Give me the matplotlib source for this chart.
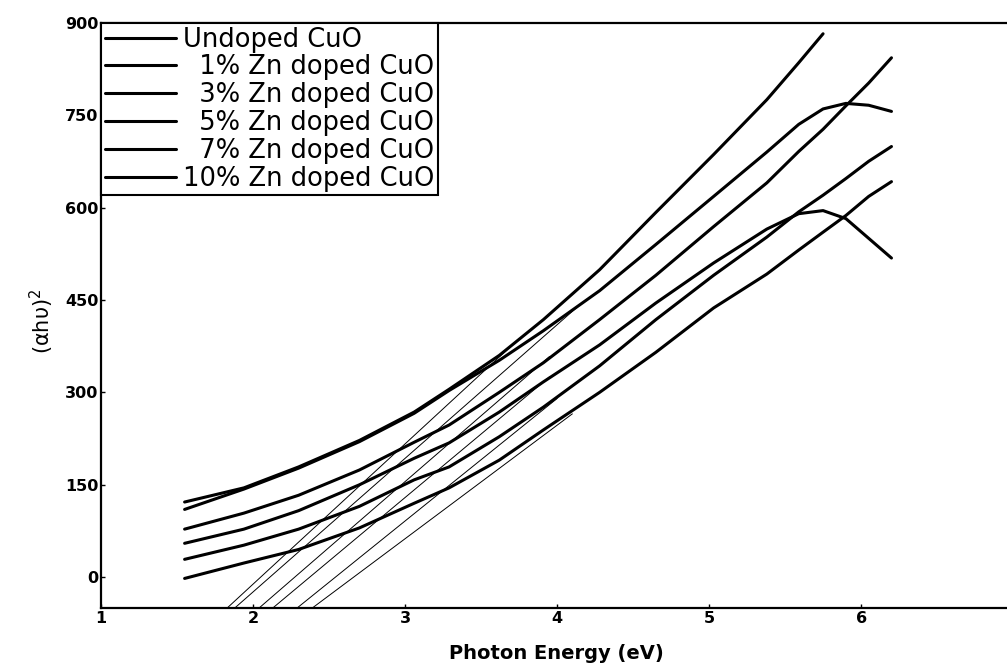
import numpy as np
import matplotlib
matplotlib.use('Agg')
from matplotlib import pyplot as plt

# -------------------------------------------------------------------------------
# data

energy = [1.55, 1.94, 2.3, 2.7, 3.06, 3.29, 3.62, 3.91, 4.28, 4.65, 5.03, 5.38, 5.59, 5.75, 5.9, 6.05, 6.2]

undoped = [122, 145, 179, 222, 268, 305, 360, 418, 499, 592, 686, 775, 835, 882]
zn1 = [110, 143, 177, 220, 266, 303, 352, 400, 465, 540, 618, 690, 735, 760, 769, 766, 756]
zn3 = [78, 104, 133, 174, 219, 247, 300, 348, 418, 490, 569, 640, 691, 727, 765, 802, 843]
zn5 = [55, 78, 108, 150, 193, 218, 268, 317, 377, 445, 510, 565, 590, 595, 582, 550, 518]
zn7 = [29, 52, 78, 115, 158, 179, 228, 276, 343, 418, 490, 552, 593, 620, 647, 675, 699]
zn10 = [-2, 23, 45, 80, 120, 145, 190, 239, 300, 365, 437, 492, 531, 560, 587, 618, 642]

labels = ['Undoped CuO', '  1% Zn doped CuO', '  3% Zn doped CuO',
          '  5% Zn doped CuO', '  7% Zn doped CuO', '10% Zn doped CuO']

# tangent (Tauc) lines: start on the bottom axis, end on the curve
tan_x0 = [1.83, 1.88, 2.04, 2.13, 2.29, 2.39]
tan_y0 = [-50, -50, -50, -50, -50, -50]
tan_x1 = [3.75, 4.14, 3.95, 3.95, 4.0, 4.1]
tan_y1 = [387, 440, 358, 325, 290, 265]

# -------------------------------------------------------------------------------
# plot

plt.rcParams['font.family'] = 'DejaVu Sans'

fig = plt.figure(figsize=(10.07, 6.65), dpi=100)
ax = fig.add_axes([0.1003, 0.0857, 0.8997, 0.8802])

series = [undoped, zn1, zn3, zn5, zn7, zn10]
for y, lab in zip(series, labels):
    ax.plot(energy[:len(y)], y, color='black', linewidth=2.2, label=lab,
            solid_capstyle='round', solid_joinstyle='round')

for x0, y0, x1, y1 in zip(tan_x0, tan_y0, tan_x1, tan_y1):
    ax.plot([x0, x1], [y0, y1], color='black', linewidth=0.7)

ax.set_xlim(1, 6.96)
ax.set_ylim(-50, 900)
ax.set_xticks([1, 2, 3, 4, 5, 6])
ax.set_yticks([0, 150, 300, 450, 600, 750, 900])

for s in ['left', 'top', 'bottom']:
    ax.spines[s].set_linewidth(1.6)
ax.spines['right'].set_visible(False)

ax.tick_params(direction='in', length=3, width=1, pad=2)
for t in ax.get_xticklabels() + ax.get_yticklabels():
    t.set_fontsize(11.5)
    t.set_fontweight('bold')

ax.set_xlabel('Photon Energy (eV)', fontsize=14, fontweight='bold')
ax.xaxis.set_label_coords(0.503, -0.062)
ax.set_ylabel(r'(αhυ)$^2$', fontsize=15)
ax.yaxis.set_label_coords(-0.05, 0.49)

leg = ax.legend(loc='upper left', bbox_to_anchor=(0, 1), borderaxespad=0,
                fontsize=18.5, handlelength=2.75, handletextpad=0.3,
                labelspacing=0.07, borderpad=0.15, fancybox=False,
                framealpha=1, edgecolor='black')
leg.get_frame().set_linewidth(1.5)
for h in leg.get_lines():
    h.set_linewidth(2.2)

fig.savefig('out.png', dpi=100)
